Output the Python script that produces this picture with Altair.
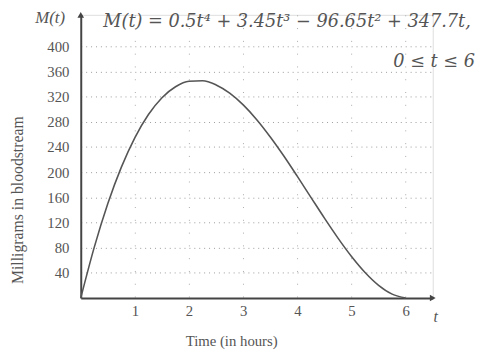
import altair as alt
import pandas as pd

# Curve values (t in hours, M in milligrams)
t_vals = [0, 0.25, 0.5, 0.75, 1, 1.25, 1.5, 1.75, 2, 2.25, 2.5, 2.75, 3,
          3.25, 3.5, 3.75, 4, 4.25, 4.5, 4.75, 5, 5.25, 5.5, 5.75, 6]
m_vals = [0, 80.9, 150.2, 208.0, 255.0, 291.6, 318.3, 335.7, 344.4, 345.2,
          338.6, 325.6, 306.9, 283.4, 255.9, 225.6, 193.2, 160.0, 126.9,
          95.2, 66.0, 40.6, 20.2, 6.2, 0]

x_ticks = [1, 2, 3, 4, 5, 6]
y_ticks = [40, 80, 120, 160, 200, 240, 280, 320, 360, 400]
x_max = 6.5
y_max = 450

equation = "M(t) = 0.5t⁴ + 3.45t³ − 96.65t² + 347.7t,"
domain_text = "0 ≤ t ≤ 6"
x_title = "Time (in hours)"
y_title = "Milligrams in bloodstream"

FONT = "Liberation Serif"
EQ_FONT = "DejaVu Serif"
INK = "#555555"

df = pd.DataFrame({"t": t_vals, "M": m_vals})

x_scale = alt.Scale(domain=[0, x_max], nice=False, zero=True)
y_scale = alt.Scale(domain=[0, y_max], nice=False, zero=True)

x_axis = alt.Axis(values=x_ticks, title=x_title, grid=True, gridDash=[1, 12],
                  gridColor="#a8a8a8", domainColor="#444444", domainWidth=2,
                  ticks=False, labelFont=FONT, labelFontSize=15, labelColor=INK,
                  labelPadding=6, labelOverlap=False, titleFont=FONT, titleFontSize=15,
                  titleFontWeight="normal", titleColor=INK, titleX=153, titleY=43,
                  titleBaseline="middle", titleAlign="center")
y_axis = alt.Axis(values=y_ticks, title=y_title, grid=True, gridDash=[1, 4],
                  gridColor="#9a9a9a", domainColor="#444444", domainWidth=2,
                  ticks=False, labelFont=FONT, labelFontSize=15, labelColor=INK,
                  labelPadding=12, labelOverlap=False, titleFont=FONT, titleFontSize=16,
                  titleFontWeight="normal", titleColor=INK, titleX=-64, titleY=188,
                  titleAngle=-90, titleBaseline="middle", titleAlign="center")


def X():
    return alt.X("t:Q", scale=x_scale, axis=x_axis)


def Y():
    return alt.Y("M:Q", scale=y_scale, axis=y_axis)


curve = alt.Chart(df).mark_line(color="#555555", strokeWidth=1.6,
                                interpolate="monotone").encode(x=X(), y=Y())

ends = pd.DataFrame({"t": [x_max, 0], "M": [0, y_max],
                     "shape": ["triangle-right", "triangle-up"]})
arrows = alt.Chart(ends).mark_point(filled=True, color="#444444", size=45,
                                    opacity=1).encode(
    x=X(), y=Y(),
    shape=alt.Shape("shape:N", scale=None, legend=None),
)

t_lab = alt.Chart(pd.DataFrame({"t": [x_max], "M": [0], "txt": ["t"]})).mark_text(
    font=FONT, fontSize=16, fontStyle="italic", color=INK, dy=19, dx=3
).encode(x=X(), y=Y(), text="txt:N")

m_lab = alt.Chart(pd.DataFrame({"t": [0], "M": [y_max], "txt": ["M(t)"]})).mark_text(
    font=FONT, fontSize=17, fontStyle="italic", color=INK, align="right", dx=-16, dy=3
).encode(x=X(), y=Y(), text="txt:N")

eq = alt.Chart(pd.DataFrame({"txt": [equation]})).mark_text(
    font=EQ_FONT, fontSize=18, fontStyle="italic", color=INK,
    align="left", baseline="middle"
).encode(x=alt.value(23), y=alt.value(7), text="txt:N")

dom = alt.Chart(pd.DataFrame({"txt": [domain_text]})).mark_text(
    font=EQ_FONT, fontSize=18, fontStyle="italic", color=INK,
    align="right", baseline="middle"
).encode(x=alt.value(401), y=alt.value(48), text="txt:N")

chart = alt.layer(curve, arrows, t_lab, m_lab, eq, dom).properties(
    width=358, height=288,
    autosize=alt.AutoSizeParams(type="none"),
    padding={"left": 74, "top": 4, "right": 45, "bottom": 54},
).configure_view(stroke=None).configure(background="white")

chart.save("out.html", embed_options={"renderer": "svg", "actions": False})
